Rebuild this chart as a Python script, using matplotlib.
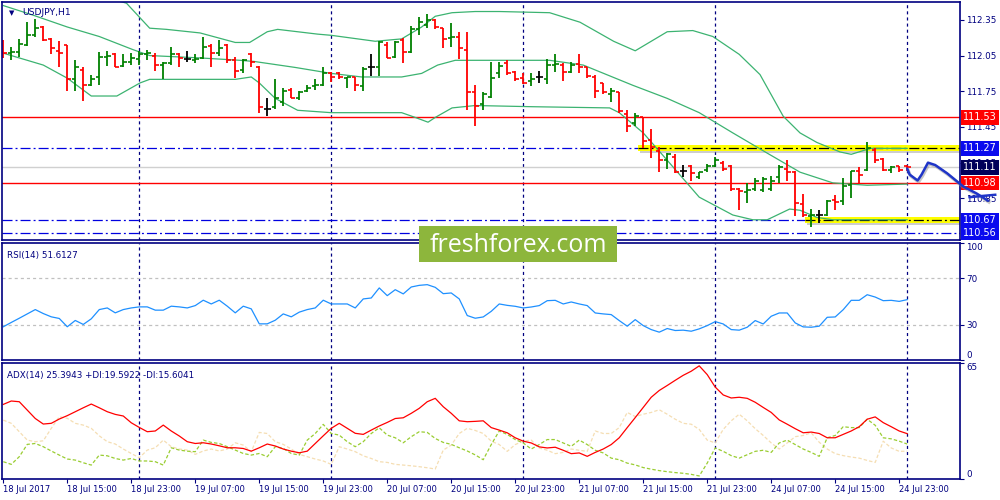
import matplotlib
matplotlib.use("Agg")
import matplotlib.pyplot as plt
import matplotlib.transforms as mtransforms
from matplotlib.patches import Rectangle
import numpy as np

plt.rcParams['font.family'] = ['DejaVu Sans']
plt.rcParams['lines.scale_dashes'] = False

W, H = 1000, 500
NAVY = '#000080'

# USDJPY H1 bars, 18 Jul 07:00 ... 25 Jul 00:00
opens = [112.17, 112.07, 112.08, 112.14, 112.22, 112.29, 112.19, 112.09, 112.14, 111.85,
         111.93, 111.80, 111.87, 112.04, 112.06, 111.96, 112.00, 112.02, 112.06, 112.05,
         111.97, 111.99, 112.06, 112.02, 112.01, 112.03, 112.13, 112.07, 112.14, 112.01,
         111.93, 112.06, 111.95, 111.60, 111.62, 111.66, 111.76, 111.69, 111.75, 111.79,
         111.80, 111.90, 111.90, 111.86, 111.87, 111.79, 111.95, 111.95, 112.14, 112.04,
         112.18, 112.08, 112.27, 112.31, 112.35, 112.28, 112.20, 112.21, 112.10, 111.74,
         111.64, 111.70, 111.90, 111.99, 111.91, 111.86, 111.84, 111.87, 111.85, 111.97,
         111.97, 111.91, 111.98, 111.95, 111.87, 111.82, 111.73, 111.74, 111.56, 111.48,
         111.53, 111.34, 111.25, 111.17, 111.20, 111.08, 111.12, 111.03, 111.09, 111.12,
         111.15, 111.12, 110.93, 110.90, 110.93, 110.92, 110.93, 111.03, 111.10, 111.07,
         110.80, 110.70, 110.71, 110.71, 110.84, 110.83, 110.96, 111.08, 111.09, 111.26,
         111.18, 111.09, 111.12, 111.12]
highs = [112.18, 112.12, 112.19, 112.33, 112.36, 112.30, 112.20, 112.17, 112.14, 112.01,
         111.95, 111.89, 112.08, 112.09, 112.07, 112.06, 112.07, 112.09, 112.10, 112.07,
         112.00, 112.12, 112.07, 112.09, 112.06, 112.21, 112.15, 112.18, 112.15, 112.04,
         112.02, 112.07, 111.96, 111.69, 111.85, 111.78, 111.78, 111.75, 111.80, 111.85,
         111.95, 111.91, 111.91, 111.87, 111.87, 111.95, 112.06, 112.17, 112.16, 112.17,
         112.20, 112.30, 112.37, 112.40, 112.36, 112.28, 112.32, 112.25, 112.25, 111.80,
         111.74, 112.00, 112.00, 112.01, 111.92, 111.90, 111.90, 111.92, 112.02, 112.06,
         111.99, 112.00, 112.06, 111.95, 111.89, 111.82, 111.78, 111.74, 111.59, 111.57,
         111.53, 111.43, 111.28, 111.23, 111.22, 111.13, 111.13, 111.07, 111.14, 111.20,
         111.16, 111.13, 110.94, 110.98, 111.02, 111.03, 111.04, 111.13, 111.17, 111.08,
         110.89, 110.76, 110.75, 110.84, 110.88, 111.02, 111.08, 111.11, 111.32, 111.27,
         111.19, 111.12, 111.12, 111.13]
lows = [112.03, 112.01, 112.04, 112.13, 112.21, 112.17, 112.06, 111.95, 111.75, 111.75,
        111.67, 111.79, 111.80, 111.96, 111.95, 111.95, 111.97, 111.97, 112.01, 111.92,
        111.85, 111.97, 111.95, 112.00, 111.99, 112.02, 111.95, 112.05, 111.99, 111.86,
        111.90, 111.95, 111.57, 111.54, 111.60, 111.63, 111.69, 111.68, 111.74, 111.76,
        111.79, 111.83, 111.85, 111.78, 111.75, 111.75, 111.88, 111.88, 112.03, 112.03,
        111.99, 112.07, 112.22, 112.28, 112.27, 112.11, 112.12, 112.02, 111.59, 111.46,
        111.59, 111.69, 111.86, 111.89, 111.84, 111.81, 111.79, 111.82, 111.81, 111.91,
        111.84, 111.90, 111.90, 111.86, 111.69, 111.73, 111.66, 111.57, 111.41, 111.46,
        111.27, 111.19, 111.07, 111.10, 111.06, 111.03, 111.00, 111.01, 111.07, 111.11,
        111.08, 110.91, 110.75, 110.81, 110.91, 110.90, 110.91, 110.98, 111.00, 110.70,
        110.69, 110.61, 110.64, 110.70, 110.75, 110.79, 110.85, 110.98, 111.08, 111.15,
        111.08, 111.06, 111.07, 111.08]
closes = [112.07, 112.08, 112.15, 112.22, 112.28, 112.18, 112.11, 112.07, 111.85, 111.95,
          111.80, 111.85, 112.04, 112.05, 111.95, 112.00, 112.03, 112.06, 112.07, 111.97,
          111.99, 112.06, 112.03, 112.02, 112.02, 112.12, 112.07, 112.11, 112.01, 111.92,
          112.01, 112.00, 111.62, 111.60, 111.69, 111.75, 111.69, 111.74, 111.78, 111.80,
          111.90, 111.87, 111.87, 111.87, 111.80, 111.94, 111.95, 112.16, 112.03, 112.16,
          112.08, 112.27, 112.33, 112.35, 112.29, 112.19, 112.21, 112.11, 111.74, 111.63,
          111.73, 111.86, 111.96, 111.90, 111.85, 111.82, 111.85, 111.87, 111.97, 111.98,
          111.91, 111.97, 111.95, 111.88, 111.75, 111.74, 111.75, 111.58, 111.46, 111.54,
          111.33, 111.28, 111.17, 111.22, 111.07, 111.08, 111.06, 111.07, 111.12, 111.17,
          111.10, 110.93, 110.91, 110.92, 111.00, 111.01, 111.00, 111.11, 111.07, 110.81,
          110.71, 110.71, 110.71, 110.83, 110.82, 110.95, 111.08, 111.05, 111.27, 111.17,
          111.09, 111.11, 111.09, 111.11]

# Bollinger bands (bar index, price)
bb_up_x = [0, 8, 15.4, 18.3, 20.4, 24.6, 29, 30.8, 33, 34.3, 39.3, 41, 46.5, 49.8, 52.3,
           54, 56.1, 59, 62, 68.3, 72.1, 76.3, 79, 83, 86.2, 88.7, 92, 94.6, 97.5, 99.6,
           101.7, 104.6, 106, 108.4, 113]
bb_up = [112.75, 112.63, 112.49, 112.28, 112.27, 112.24, 112.16, 112.16, 112.25, 112.27,
         112.23, 112.22, 112.17, 112.19, 112.29, 112.38, 112.41, 112.42, 112.42, 112.41,
         112.33, 112.17, 112.09, 112.25, 112.26, 112.21, 112.06, 111.89, 111.54, 111.40,
         111.32, 111.24, 111.22, 111.27, 111.27]
bb_mid_x = [0, 3.7, 8, 12, 16.2, 18.3, 24.6, 29.6, 31.4, 36.5, 41, 44.8, 49.8, 52.3, 54.3,
            56.5, 62, 68.3, 72.5, 78.7, 83, 87, 91.2, 95.5, 99.6, 103.7, 108, 113]
bb_mid = [112.47, 112.39, 112.29, 112.21, 112.10, 112.05, 112.03, 112.01, 112.00, 111.95,
          111.90, 111.87, 111.87, 111.90, 111.97, 112.01, 112.01, 112.01, 111.97, 111.80,
          111.69, 111.57, 111.40, 111.23, 111.07, 110.98, 110.96, 110.97]
bb_lo_x = [0, 5, 8, 11, 14.2, 17.1, 18.3, 24.6, 29, 31, 32, 34, 36.8, 41, 45.6, 49.8, 51.5,
           53.1, 54, 56.1, 59, 66.2, 75.8, 77, 80, 83, 87, 91.2, 93.7, 95.5, 98.3, 99.6,
           101.7, 103.7, 108, 113]
bb_lo = [112.07, 111.97, 111.86, 111.71, 111.71, 111.82, 111.85, 111.85, 111.85, 111.87,
         111.82, 111.69, 111.59, 111.57, 111.57, 111.57, 111.53, 111.49, 111.53, 111.61,
         111.63, 111.62, 111.61, 111.57, 111.40, 111.17, 110.86, 110.71, 110.67, 110.67,
         110.76, 110.75, 110.69, 110.67, 110.67, 110.67]

rsi = [28.4, 32.1, 35.7, 39.4, 43.1, 39.7, 36.9, 35.5, 28.4, 33.8,
       30.4, 35.2, 43.1, 44.5, 40.3, 43.1, 44.5, 45.4, 45.4, 42.6,
       42.6, 46.0, 45.4, 44.5, 46.5, 51.1, 47.9, 51.1, 46.0, 40.3,
       46.0, 43.7, 30.9, 30.9, 34.0, 39.4, 36.9, 40.9, 43.1, 44.5,
       51.1, 47.9, 47.9, 47.9, 44.5, 52.2, 53.0, 61.6, 55.0, 60.1,
       56.5, 62.4, 63.8, 64.4, 62.1, 56.7, 57.3, 52.2, 38.0, 35.7,
       36.8, 41.6, 47.9, 46.7, 45.9, 44.5, 45.3, 46.5, 50.7, 51.0,
       47.9, 49.6, 47.9, 46.5, 40.2, 39.4, 38.8, 33.7, 28.9, 34.5,
       29.4, 26.0, 23.8, 26.9, 25.2, 25.5, 24.6, 26.6, 29.4, 32.8,
       30.8, 26.0, 25.5, 28.0, 33.7, 30.8, 37.4, 40.2, 40.2, 31.7,
       28.3, 28.0, 28.9, 36.5, 36.8, 43.0, 51.0, 51.0, 55.8, 53.8,
       50.7, 51.0, 50.1, 51.6]

adx = [41.8, 43.7, 43.3, 38.6, 33.9, 30.8, 31.2, 33.6, 35.5, 37.7,
       39.9, 42.0, 39.9, 37.7, 36.2, 35.3, 31.5, 28.9, 26.5, 26.9,
       30.2, 26.9, 24.1, 20.9, 19.9, 20.3, 19.6, 18.6, 17.5, 17.5,
       17.1, 15.6, 17.5, 19.6, 18.5, 16.8, 15.6, 14.7, 15.6, 19.9,
       24.2, 28.4, 31.2, 28.4, 25.6, 25.0, 27.4, 29.7, 31.7, 33.9,
       34.3, 36.8, 39.6, 43.3, 45.2, 40.5, 36.8, 32.6, 32.1, 32.3,
       32.6, 28.8, 27.4, 25.9, 23.1, 21.2, 20.2, 18.0, 17.4, 17.8,
       16.1, 14.2, 14.6, 12.7, 14.9, 16.8, 19.3, 23.1, 28.8, 34.4,
       40.1, 45.8, 49.6, 52.4, 55.3, 58.1, 60.4, 63.4, 58.5, 51.5,
       47.1, 45.4, 45.8, 45.2, 43.0, 40.1, 37.3, 33.1, 30.7, 28.2,
       25.9, 26.3, 25.5, 23.1, 23.1, 25.0, 26.9, 29.3, 33.5, 34.8,
       31.6, 29.3, 26.9, 25.4]
plus_di = [9.7, 8.2, 12.5, 19.4, 19.9, 18.1, 15.7, 13.4, 11.2, 10.6,
           9.1, 7.8, 13.4, 13.0, 11.5, 10.6, 11.5, 10.1, 10.1, 9.7,
           7.8, 17.5, 16.2, 15.6, 15.3, 21.8, 20.5, 19.9, 18.1, 16.2,
           14.3, 13.4, 14.3, 12.5, 18.1, 17.1, 14.3, 13.4, 21.8, 25.5,
           30.6, 25.5, 24.6, 20.9, 18.1, 20.9, 25.5, 28.7, 24.6, 23.1,
           20.3, 23.7, 26.5, 26.1, 22.7, 20.5, 19.4, 17.5, 15.7, 13.5,
           10.8, 19.3, 26.9, 25.0, 22.1, 20.2, 16.8, 19.3, 22.1, 22.1,
           20.2, 18.3, 21.8, 19.3, 16.1, 14.6, 11.7, 10.8, 8.9, 7.9,
           6.4, 5.5, 4.7, 4.1, 3.6, 3.2, 2.6, 1.7, 8.9, 17.4,
           15.5, 13.1, 11.7, 13.6, 15.5, 16.1, 14.9, 20.2, 21.8, 19.3,
           16.8, 14.9, 12.7, 23.1, 24.4, 29.3, 28.8, 28.8, 33.5, 30.1,
           23.1, 22.5, 21.2, 19.6]
minus_di = [33.0, 31.2, 26.5, 21.8, 20.9, 21.4, 28.4, 34.9, 34.0, 31.2,
            30.2, 28.4, 24.2, 20.9, 19.6, 16.8, 14.3, 11.9, 16.2, 17.5,
            21.8, 18.1, 16.8, 16.2, 13.8, 15.7, 16.8, 15.7, 16.8, 20.3,
            19.0, 15.3, 26.1, 25.5, 20.9, 19.4, 16.8, 13.8, 12.5, 11.2,
            10.1, 8.2, 18.1, 16.8, 15.3, 13.0, 11.5, 9.7, 9.3, 8.2,
            7.8, 7.4, 6.9, 6.3, 5.6, 16.2, 19.0, 25.5, 28.4, 27.2,
            25.5, 21.2, 19.3, 15.5, 19.3, 21.2, 21.8, 17.4, 16.1, 14.2,
            14.9, 16.8, 16.1, 15.5, 26.9, 25.5, 25.5, 28.8, 37.3, 35.0,
            36.3, 37.3, 38.8, 36.3, 33.5, 31.2, 30.7, 27.8, 21.8, 20.2,
            27.8, 32.6, 36.3, 32.6, 28.2, 24.4, 20.2, 16.8, 20.2, 23.7,
            24.4, 25.9, 20.6, 16.8, 14.2, 13.1, 12.3, 11.7, 10.4, 9.3,
            21.2, 17.4, 15.5, 15.6]

time_labels = ["18 Jul 2017", "18 Jul 15:00", "18 Jul 23:00", "19 Jul 07:00", "19 Jul 15:00",
               "19 Jul 23:00", "20 Jul 07:00", "20 Jul 15:00", "20 Jul 23:00", "21 Jul 07:00",
               "21 Jul 15:00", "21 Jul 23:00", "24 Jul 07:00", "24 Jul 15:00", "24 Jul 23:00"]
day_starts = [17, 41, 65, 89, 113]

price_ticks = [112.35, 112.05, 111.75, 111.45, 111.15, 110.85]
red_levels = [111.53, 110.98]
blue_levels = [111.27, 110.67, 110.56]
zone_levels = [111.27, 110.67]
zone_start = [79.3, 100.2]
bid = 111.11

# hand drawn forecast (bar index, price)
fc_x = [113.0, 113.3, 114.3, 114.8, 115.6, 116.5, 118.0, 120.0, 121.7, 123.1]
fc_y = [111.10, 111.05, 111.00, 111.05, 111.15, 111.13, 111.06, 110.95, 110.89, 110.83]
fc_head_x = [120.8, 124.0]
fc_head_y = [110.86, 110.88]

n = len(closes)
idx = np.arange(n)
XMIN, XMAX = -0.16, 119.6

fig = plt.figure(figsize=(10, 5), dpi=100)


def px_axes(x0, y0, x1, y1):
    return fig.add_axes([x0 / W, 1 - y1 / H, (x1 - x0) / W, (y1 - y0) / H])


ax = px_axes(2, 2, 960, 240)
ax_rsi = px_axes(2, 243, 960, 360)
ax_adx = px_axes(2, 363, 960, 479)

for a in (ax, ax_rsi, ax_adx):
    a.set_xlim(XMIN, XMAX)
    for s in a.spines.values():
        s.set_color(NAVY)
        s.set_linewidth(1.2)
    a.yaxis.tick_right()
    a.tick_params(axis='y', colors=NAVY, labelsize=6.3, length=3, width=0.8, pad=1.5)
    a.tick_params(axis='x', colors=NAVY, labelsize=6.0, length=3, width=0.8, pad=1.5)
    for d in day_starts:
        a.axvline(d, color=NAVY, lw=0.9, ls=(0, (2.2, 2.2)), zorder=1)

# ---- main price panel ----
ax.set_ylim(110.50, 112.50)
ax.set_xticks([])
ax.set_yticks(price_ticks)
ax.set_yticklabels([f"{p:.2f}" for p in price_ticks])

for lv in red_levels:
    ax.axhline(lv, color='red', lw=1.0, zorder=1.2)
ax.axhline(bid, color='#d0d0d0', lw=1.0, zorder=1.1)

blue_dd = (0, (7.2, 2.2, 1.4, 2.2))
for lv in blue_levels:
    if lv in zone_levels:
        x0 = zone_start[zone_levels.index(lv)]
        ax.plot([XMIN, x0], [lv, lv], color='#0000e0', lw=0.9, ls=blue_dd, zorder=1.3)
        ax.add_patch(Rectangle((x0 + 0.3, lv - 0.042), XMAX - x0, 0.05,
                               color='#909090', alpha=0.45, lw=0, zorder=1.25))
        ax.add_patch(Rectangle((x0, lv - 0.025), XMAX - x0, 0.05,
                               color='#ffff00', lw=0, zorder=1.3))
        ax.plot([x0, XMAX], [lv, lv], color='black', lw=0.9, ls=blue_dd, zorder=1.4)
    else:
        ax.axhline(lv, color='#0000e0', lw=0.9, ls=blue_dd, zorder=1.3)

band_col = '#3cb371'
ax.plot(bb_up_x, bb_up, color=band_col, lw=0.9, zorder=1.5)
ax.plot(bb_mid_x, bb_mid, color=band_col, lw=0.9, zorder=1.5)
ax.plot(bb_lo_x, bb_lo, color=band_col, lw=0.9, zorder=1.5)

o = np.array(opens)
c = np.array(closes)
bar_cols = np.where(c > o, '#008000', np.where(c < o, '#ff0000', '#000000'))
ax.vlines(idx, lows, highs, colors=bar_cols, lw=1.3, zorder=2)
ax.hlines(o, idx - 0.42, idx, colors=bar_cols, lw=1.2, zorder=2)
ax.hlines(c, idx, idx + 0.42, colors=bar_cols, lw=1.2, zorder=2)

# price labels on the scale
ytrans = mtransforms.blended_transform_factory(ax.transAxes, ax.transData)
box_levels = [111.53, 111.27, bid, 110.98, 110.67, 110.56]
box_cols = ['#ff0000', '#0a0aee', '#00005a', '#ff0000', '#0a0aee', '#0a0aee']
for lv, bc in zip(box_levels, box_cols):
    ax.text(1.003, lv, f"{lv:.2f}", transform=ytrans, color='white', fontsize=7,
            va='center', ha='left', clip_on=False, zorder=6,
            bbox=dict(boxstyle='square,pad=0.22', fc=bc, ec='none'))

ax.plot(fc_x, fc_y, color='#909090', lw=2.2, alpha=0.5, clip_on=False, zorder=19,
        transform=ax.transData + mtransforms.ScaledTranslation(1 / 100, -1.5 / 100, fig.dpi_scale_trans))
ax.plot(fc_x, fc_y, color='#1f35c8', lw=1.8, clip_on=False, zorder=20,
        solid_capstyle='round', solid_joinstyle='round')
ax.plot(fc_head_x, fc_head_y, color='#1f35c8', lw=1.8, clip_on=False, zorder=20)

ax.text(0.007, 0.955, "\u25bc", transform=ax.transAxes, color=NAVY, fontsize=5, va='center')
ax.text(0.021, 0.955, "USDJPY,H1", transform=ax.transAxes, color=NAVY, fontsize=6.7, va='center')

# ---- RSI panel ----
ax_rsi.set_ylim(0, 100)
ax_rsi.set_xticks([])
ax_rsi.set_yticks([0, 30, 70, 100])
ax_rsi.set_yticklabels(['0', '30', '70', '100'])
labs = ax_rsi.get_yticklabels()
labs[0].set_va('bottom')
labs[-1].set_va('top')
for lv in (30, 70):
    ax_rsi.axhline(lv, color='#c0c0c0', lw=0.9, ls=(0, (2.2, 2.2)), zorder=1)
ax_rsi.plot(idx, rsi, color='#1e90ff', lw=0.9, zorder=2)
ax_rsi.text(0.005, 0.93, "RSI(14) 51.6127", transform=ax_rsi.transAxes, color=NAVY,
            fontsize=6.3, va='top')

# ---- ADX panel ----
ax_adx.set_ylim(0, 65)
ax_adx.set_yticks([0, 65])
ax_adx.set_yticklabels(['0', '65'])
labs = ax_adx.get_yticklabels()
labs[0].set_va('bottom')
labs[-1].set_va('top')
ax_adx.plot(idx, minus_di, color='#f5deb3', lw=0.9, ls=(0, (2.5, 1.5)), zorder=1.6)
ax_adx.plot(idx, plus_di, color='#9acd32', lw=0.9, ls=(0, (2.5, 1.5)), zorder=1.7)
ax_adx.plot(idx, adx, color='#ff0000', lw=0.9, zorder=2)
ax_adx.text(0.005, 0.93, "ADX(14) 25.3943 +DI:19.5922 -DI:15.6041", transform=ax_adx.transAxes,
            color=NAVY, fontsize=6.3, va='top')
ax_adx.set_xticks(np.arange(0, n, 8)[:len(time_labels)])
ax_adx.set_xticklabels(time_labels, ha='left')

# watermark
fig.add_artist(Rectangle((419 / W, 1 - 262 / H), 198 / W, 36 / H, transform=fig.transFigure,
                         color='#8db63c', lw=0, zorder=10))
fig.text(518 / W, 1 - 245 / H, "freshforex.com", color='white', fontsize=18,
         family=['Open Sans', 'DejaVu Sans'], ha='center', va='center', zorder=11)

fig.savefig("out.png", dpi=100, facecolor='white')
